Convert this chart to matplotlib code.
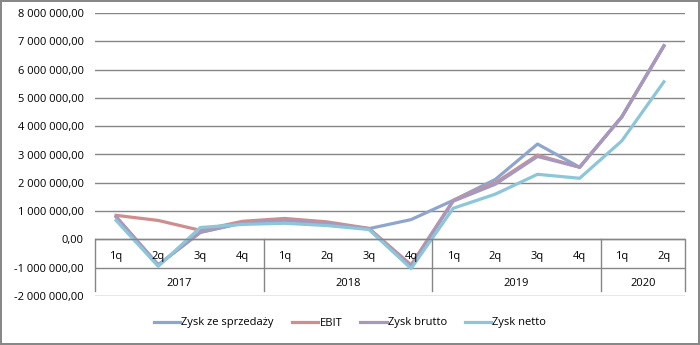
import matplotlib
matplotlib.use("Agg")
import matplotlib.pyplot as plt
from matplotlib.ticker import FuncFormatter, MultipleLocator

plt.rcParams['font.family'] = ['Open Sans', 'DejaVu Sans']

quarters = ['1q', '2q', '3q', '4q'] * 3 + ['1q', '2q']
years = ['2017', '2018', '2019', '2020']
year_len = [4, 4, 4, 2]

zysk_sprzedaz = [800e3, -900e3, 250e3, 580e3, 680e3, 570e3, 380e3, 700e3,
                 1380e3, 2120e3, 3370e3, 2550e3, 4330e3, 6840e3]
ebit = [850e3, 670e3, 320e3, 640e3, 740e3, 620e3, 390e3, -900e3,
        1380e3, 2000e3, 2980e3, 2550e3, 4330e3, 6840e3]
zysk_brutto = [800e3, -900e3, 250e3, 580e3, 680e3, 570e3, 370e3, -950e3,
               1350e3, 1950e3, 2930e3, 2550e3, 4330e3, 6840e3]
zysk_netto = [670e3, -950e3, 420e3, 530e3, 570e3, 490e3, 350e3, -1030e3,
              1100e3, 1600e3, 2300e3, 2160e3, 3480e3, 5570e3]

series = [
    ('Zysk ze sprzedaży', zysk_sprzedaz, '#8ea5ce'),
    ('EBIT', ebit, '#cf8e8d'),
    ('Zysk brutto', zysk_brutto, '#a699c0'),
    ('Zysk netto', zysk_netto, '#8cc6d8'),
]

fig = plt.figure(figsize=(7, 3.45), dpi=100)
fig.patch.set_edgecolor('#888888')
fig.patch.set_linewidth(1.5)
ax = fig.add_axes([95 / 700, 1 - 296 / 345, 590 / 700, 283 / 345])

x = list(range(len(quarters)))
for name, vals, col in series:
    ax.plot(x, vals, color=col, lw=2.3, label=name)

ax.set_xlim(-0.5, len(quarters) - 0.5)
ax.set_ylim(-2e6, 8e6)
ax.yaxis.set_major_locator(MultipleLocator(1e6))


def fmt(v, pos):
    s = f"{abs(v):,.2f}".replace(',', ' ').replace('.', ',')
    return ('-' if v < 0 else '') + s


ax.yaxis.set_major_formatter(FuncFormatter(fmt))
ax.tick_params(axis='y', length=0, labelsize=8, pad=8)
ax.set_xticks([])
for s in ax.spines.values():
    s.set_visible(False)
ax.grid(axis='y', color='#868686', lw=1)
ax.set_axisbelow(True)

# category table under the zero line
gc = '#868686'
ax.axhline(0, color=gc, lw=1)
bottom = -1.84e6
for i, q in enumerate(quarters):
    ax.text(i, -0.6e6, q, ha='center', va='center', fontsize=8)
start = 0
bounds = [-0.5]
for yr, n in zip(years, year_len):
    ax.text(start + (n - 1) / 2, -1.56e6, yr, ha='center', va='center', fontsize=8)
    start += n
    bounds.append(start - 0.5)
for b in bounds:
    ax.plot([b, b], [0, bottom], color=gc, lw=1, clip_on=False)

fig.legend(loc='center', bbox_to_anchor=(0.5, 1 - 323 / 345), ncol=4,
           frameon=False, fontsize=8, handlelength=2.4, columnspacing=1.6,
           handletextpad=0.1)

fig.savefig('out.png', dpi=100)
